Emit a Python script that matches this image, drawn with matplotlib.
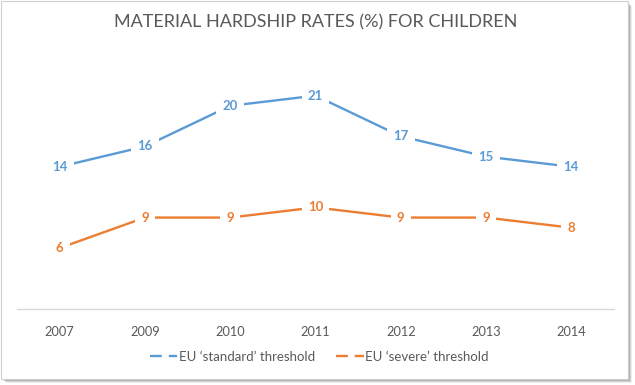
import matplotlib
matplotlib.use("Agg")
import matplotlib.pyplot as plt
from matplotlib.patches import Rectangle
from matplotlib.lines import Line2D

years = ["2007", "2009", "2010", "2011", "2012", "2013", "2014"]
standard = [14, 16, 20, 21, 17, 15, 14]
severe = [6, 9, 9, 10, 9, 9, 8]

BLUE = "#5B9BD5"
ORANGE = "#ED7D31"
GREY = "#595959"

plt.rcParams['font.family'] = ['Lato', 'DejaVu Sans']
plt.rcParams['lines.scale_dashes'] = False

fig = plt.figure(figsize=(6.35, 3.85), dpi=100)
W, H = 635, 385

# frame with shadow
for i, a in enumerate([0.10, 0.18, 0.28, 0.40]):
    off = 4 - i
    fig.patches.append(Rectangle(((2 + off) / W, (H - 379 - off) / H), 626 / W, 377 / H,
                                 transform=fig.transFigure, facecolor=(0.35, 0.35, 0.35, a),
                                 edgecolor='none', zorder=0))
fig.patches.append(Rectangle((1 / W, (H - 379) / H), 627 / W, 378 / H, transform=fig.transFigure,
                             facecolor='white', edgecolor='#D0D0D0', linewidth=0.8, zorder=1))

ax = fig.add_axes([17 / W, (H - 309) / H, 597 / W, 254 / H])
ax.set_zorder(5)
ax.set_facecolor('none')
x = list(range(len(years)))
ax.plot(x, standard, color=BLUE, linewidth=1.7, solid_capstyle='butt')
ax.plot(x, severe, color=ORANGE, linewidth=1.7, solid_capstyle='butt')
for xi, v in zip(x, standard):
    ax.text(xi, v, str(v), color=BLUE, fontsize=9.5, fontweight='bold', ha='center', va='center',
            bbox=dict(facecolor='white', edgecolor='none', pad=4.5))
for xi, v in zip(x, severe):
    ax.text(xi, v, str(v), color=ORANGE, fontsize=9.5, fontweight='bold', ha='center', va='center',
            bbox=dict(facecolor='white', edgecolor='none', pad=4.5))

ax.set_xlim(-0.5, len(years) - 0.5)
ax.set_ylim(0, 25)
ax.set_xticks(x)
ax.set_xticklabels(years, color=GREY, fontsize=9.2)
ax.tick_params(axis='x', length=0, pad=12)
ax.set_yticks([])
for s in ['top', 'right', 'left']:
    ax.spines[s].set_visible(False)
ax.spines['bottom'].set_color('#D9D9D9')
ax.spines['bottom'].set_linewidth(1.0)

fig.text(316 / W, 1 - 22 / H, "MATERIAL HARDSHIP RATES (%) FOR CHILDREN", ha='center', va='center',
         color=GREY, fontsize=13)

handles = [Line2D([], [], color=BLUE, linewidth=1.7, dashes=(8.5, 5)),
           Line2D([], [], color=ORANGE, linewidth=1.7, dashes=(8.5, 5))]
labels = ["EU \u2018standard\u2019 threshold", "EU \u2018severe\u2019 threshold"]
leg = fig.legend(handles, labels, loc='center', bbox_to_anchor=(319 / W, 1 - 357 / H), ncol=2,
                 frameon=False, fontsize=9.5, handlelength=2.1, columnspacing=1.6, handletextpad=0.1)
for t in leg.get_texts():
    t.set_color(GREY)

fig.savefig("out.png", dpi=100)
